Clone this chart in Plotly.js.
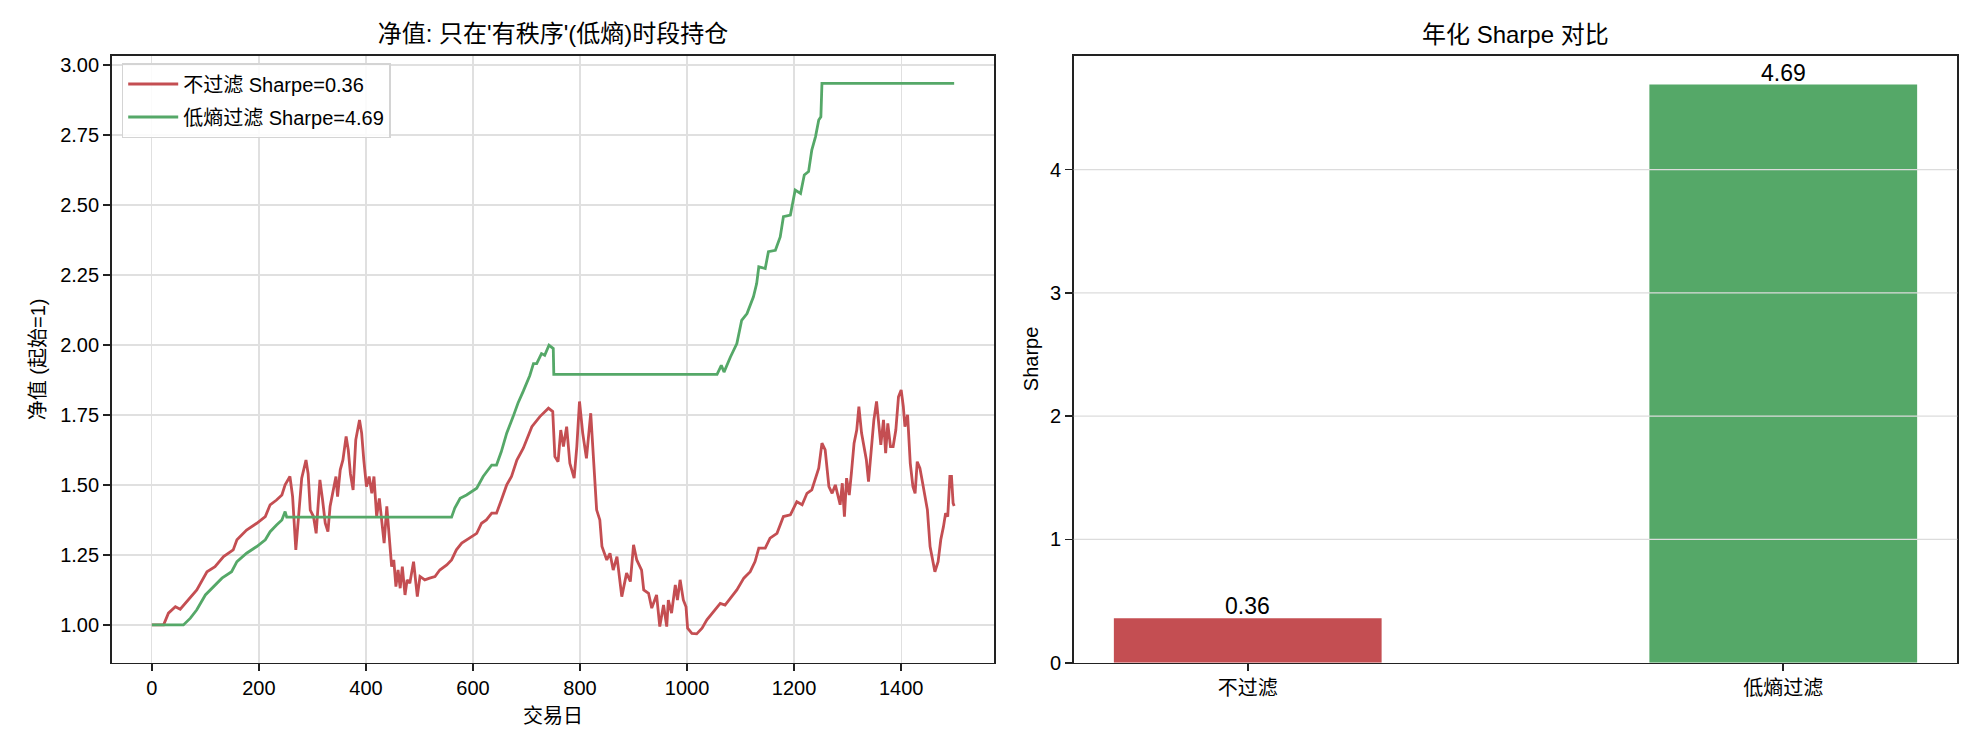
<!DOCTYPE html>
<html>
<head>
<meta charset="utf-8">
<script src="https://cdn.plot.ly/plotly-3.0.1.min.js"></script>
<style>html,body{margin:0;padding:0;background:#fff;}#chart{width:1980px;height:750px;}</style>
</head>
<body>
<div id="chart"></div>
<script>
// ---- data ----
const nfDays = [0,22,31,44,53,68,84,103,118,134,152,159,177,196,212,221,233,243,249,258,263,269,276,280,288,292,296,302,307,314,319,324,329,333,339,344,347,352,357,363,367,371,376,381,388,392,396,401,406,411,415,420,425,429,434,439,443,448,452,456,460,464,468,473,477,482,489,492,496,501,510,519,529,538,551,560,569,579,588,597,607,616,625,635,644,653,663,672,682,694,710,725,741,749,753,759,764,769,775,781,789,794,799,805,812,820,825,831,837,841,850,856,862,869,878,887,894,900,906,915,919,928,934,943,949,956,962,965,971,978,982,987,993,998,1001,1009,1018,1028,1037,1049,1062,1071,1081,1093,1106,1118,1127,1134,1146,1155,1168,1180,1193,1205,1215,1224,1233,1240,1246,1252,1258,1265,1271,1277,1283,1286,1290,1294,1298,1303,1307,1312,1317,1321,1326,1331,1335,1339,1344,1349,1354,1359,1362,1367,1371,1375,1380,1385,1390,1395,1400,1404,1407,1412,1417,1422,1426,1430,1435,1439,1444,1449,1454,1459,1463,1469,1474,1479,1483,1487,1491,1494,1497,1499];
const nfVals = [1.000,1.000,1.042,1.065,1.056,1.089,1.125,1.190,1.208,1.244,1.268,1.304,1.339,1.363,1.387,1.429,1.446,1.464,1.500,1.530,1.458,1.268,1.435,1.524,1.589,1.540,1.410,1.387,1.327,1.518,1.446,1.363,1.333,1.423,1.482,1.530,1.458,1.554,1.589,1.673,1.625,1.540,1.482,1.661,1.732,1.685,1.589,1.494,1.530,1.470,1.530,1.387,1.452,1.375,1.292,1.423,1.327,1.208,1.232,1.137,1.196,1.131,1.208,1.107,1.161,1.149,1.226,1.161,1.101,1.173,1.161,1.167,1.173,1.196,1.214,1.232,1.268,1.292,1.304,1.315,1.327,1.363,1.375,1.399,1.399,1.446,1.500,1.530,1.589,1.631,1.708,1.744,1.774,1.762,1.601,1.583,1.696,1.637,1.708,1.577,1.524,1.637,1.798,1.685,1.595,1.756,1.613,1.411,1.375,1.280,1.232,1.256,1.196,1.244,1.101,1.185,1.155,1.286,1.232,1.196,1.125,1.113,1.060,1.107,0.994,1.071,0.994,1.089,1.042,1.143,1.089,1.161,1.089,1.065,0.988,0.970,0.968,0.988,1.018,1.048,1.077,1.071,1.095,1.125,1.167,1.190,1.226,1.274,1.274,1.310,1.327,1.387,1.393,1.440,1.429,1.470,1.482,1.524,1.560,1.649,1.625,1.494,1.470,1.500,1.458,1.429,1.506,1.387,1.524,1.464,1.542,1.649,1.696,1.780,1.685,1.625,1.589,1.512,1.637,1.732,1.798,1.708,1.643,1.732,1.613,1.720,1.637,1.637,1.696,1.815,1.839,1.780,1.708,1.750,1.577,1.494,1.470,1.583,1.560,1.518,1.458,1.411,1.280,1.226,1.190,1.226,1.304,1.351,1.399,1.387,1.530,1.530,1.435,1.425,1.400];

const lfDays = [0,59,72,84,100,115,131,149,159,177,196,212,221,233,243,249,252,560,566,576,588,607,619,635,644,653,663,675,684,694,706,713,719,728,734,742,750,751,1056,1064,1069,1081,1093,1102,1112,1124,1130,1134,1146,1152,1165,1174,1180,1193,1202,1212,1219,1227,1233,1240,1246,1250,1252,1499];
const lfVals = [1.000,1.000,1.024,1.054,1.107,1.137,1.167,1.190,1.226,1.256,1.280,1.304,1.333,1.357,1.375,1.405,1.385,1.385,1.417,1.452,1.464,1.488,1.530,1.571,1.571,1.619,1.685,1.744,1.792,1.835,1.890,1.933,1.933,1.969,1.963,1.999,1.987,1.895,1.895,1.927,1.903,1.957,2.005,2.088,2.112,2.172,2.219,2.279,2.273,2.333,2.338,2.386,2.458,2.464,2.553,2.541,2.607,2.619,2.696,2.744,2.803,2.815,2.934,2.934];

const seriesNames = ["不过滤 Sharpe=0.36", "低熵过滤 Sharpe=4.69"];
const barCats = ["不过滤", "低熵过滤"];
const barSharpe = [0.36, 4.69];
const leftXTicks = [0,200,400,600,800,1000,1200,1400];
const leftYTicks = [1.00,1.25,1.50,1.75,2.00,2.25,2.50,2.75,3.00];
const rightYTicks = [0,1,2,3,4];

const RED = "#C44E52", GREEN = "#55A868";
const FONT = "Liberation Sans, Arial, 'Noto Sans CJK SC', sans-serif";
const AX = "#222222";
const GRID = "#e0e0e0";

const W = 1980, H = 750;
const px = v => v / W;
const py = v => 1 - v / H;

const traces = [
  {x: nfDays, y: nfVals, type: "scatter", mode: "lines", name: seriesNames[0], legendgroup: "a",
   line: {color: RED, width: 2.8}, xaxis: "x", yaxis: "y"},
  {x: lfDays, y: lfVals, type: "scatter", mode: "lines", name: seriesNames[1], legendgroup: "b",
   line: {color: GREEN, width: 2.8}, xaxis: "x", yaxis: "y"},
  {x: barCats, y: barSharpe, type: "bar", width: 0.5,
   marker: {color: [RED, GREEN]}, showlegend: false,
   xaxis: "x2", yaxis: "y2"}
];

const axCommon = {
  showline: true, mirror: true, linecolor: AX, linewidth: 1.6,
  ticks: "outside", ticklen: 7, tickwidth: 1.6, tickcolor: AX,
  tickfont: {size: 20, color: "#000", family: FONT},
  zeroline: false, automargin: false, fixedrange: true
};

const L = {l: 111.7, r: 994.3, t: 55.7, b: 662.7};
const R = {l: 1073.7, r: 1957.3, t: 55.7, b: 662.7};

const barLabels = barCats.map((c, i) => ({
  text: barSharpe[i].toFixed(2), x: c, y: barSharpe[i], xref: "x2", yref: "y2",
  xanchor: "center", yanchor: "middle", yshift: 12, showarrow: false,
  font: {size: 23, family: FONT, color: "#000"}
}));

const layout = {
  width: W, height: H, autosize: false,
  margin: {l: 0, r: 0, t: 0, b: 0, pad: 0},
  paper_bgcolor: "#fff", plot_bgcolor: "#fff",
  font: {family: FONT, size: 20, color: "#000"},
  title: {text: "净值: 只在'有秩序'(低熵)时段持仓", font: {size: 24, family: FONT, color: "#000"},
          x: px((L.l + L.r) / 2), xanchor: "center", xref: "paper",
          y: py(34), yanchor: "middle", yref: "paper"},
  showlegend: true,
  legend: {x: px(121.7), y: py(63), xanchor: "left", yanchor: "top",
           bgcolor: "rgba(255,255,255,0.85)", bordercolor: "#d4d4d4", borderwidth: 1.5,
           itemwidth: 50,
           font: {size: 20, family: FONT, color: "#000"}, tracegroupgap: 4},
  xaxis: Object.assign({}, axCommon, {
    domain: [px(L.l), px(L.r)], anchor: "y", range: [-75, 1574],
    tickvals: leftXTicks, ticktext: leftXTicks.map(String),
    showgrid: true, gridcolor: GRID, gridwidth: 1.3
  }),
  yaxis: Object.assign({}, axCommon, {
    domain: [py(L.b), py(L.t)], anchor: "x", range: [0.865, 3.033],
    tickvals: leftYTicks, ticktext: leftYTicks.map(v => v.toFixed(2)),
    showgrid: true, gridcolor: GRID, gridwidth: 1.3
  }),
  xaxis2: Object.assign({}, axCommon, {
    domain: [px(R.l), px(R.r)], anchor: "y2", range: [-0.325, 1.325],
    type: "category", showgrid: false
  }),
  yaxis2: Object.assign({}, axCommon, {
    domain: [py(R.b), py(R.t)], anchor: "x2", range: [0, 4.9245],
    tickvals: rightYTicks, ticktext: rightYTicks.map(String),
    showgrid: false
  }),
  shapes: rightYTicks.filter(v => v > 0).map(v => ({
    type: "line", xref: "x2 domain", yref: "y2", x0: 0, x1: 1, y0: v, y1: v,
    line: {color: "#dcdcdc", width: 1.3}, layer: "above"
  })),
  annotations: barLabels.concat([
    {text: "年化 Sharpe 对比", x: px((R.l + R.r) / 2), y: py(34), xref: "paper", yref: "paper",
     xanchor: "center", yanchor: "middle", showarrow: false, font: {size: 24, family: FONT, color: "#000"}},
    {text: "交易日", x: px((L.l + L.r) / 2), y: py(716), xref: "paper", yref: "paper",
     xanchor: "center", yanchor: "middle", showarrow: false, font: {size: 20, family: FONT, color: "#000"}},
    {text: "净值 (起始=1)", x: px(38), y: py((L.t + L.b) / 2), xref: "paper", yref: "paper",
     xanchor: "center", yanchor: "middle", textangle: -90, showarrow: false, font: {size: 20, family: FONT, color: "#000"}},
    {text: "Sharpe", x: px(1031), y: py((R.t + R.b) / 2), xref: "paper", yref: "paper",
     xanchor: "center", yanchor: "middle", textangle: -90, showarrow: false, font: {size: 20, family: FONT, color: "#000"}}
  ])
};

Plotly.newPlot("chart", traces, layout, {displayModeBar: false, staticPlot: true});
</script>
</body>
</html>
